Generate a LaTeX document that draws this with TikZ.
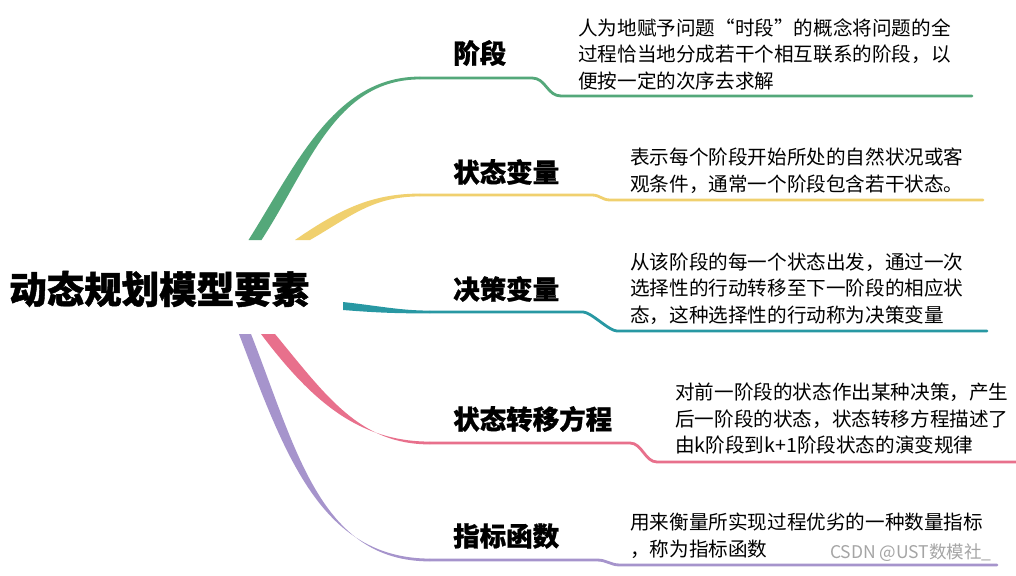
\documentclass[tikz,border=0pt]{standalone}
\usepackage{fontspec}
\setmainfont{Noto Sans CJK SC}
\newfontfamily\cjk{Noto Sans CJK SC}
\definecolor{cgreen}{RGB}{84,168,122}
\definecolor{cyellow}{RGB}{240,208,110}
\definecolor{cteal}{RGB}{40,152,163}
\definecolor{cpink}{RGB}{232,112,140}
\definecolor{cpurple}{RGB}{166,148,204}
\definecolor{wmgray}{RGB}{165,165,165}
\tikzset{
  root/.style={inner sep=0pt, anchor=west, font=\cjk\bfseries\addfontfeatures{FakeBold=1.2}\fontsize{37.5}{40}\selectfont},
  lab/.style={inner sep=0pt, anchor=west, font=\cjk\bfseries\addfontfeatures{FakeBold=0.8}\fontsize{26.5}{30}\selectfont},
  desc/.style={inner sep=0pt, anchor=west, align=left, font=\cjk\fontsize{19.6}{26.5}\selectfont},
  flat/.style={line width=2.8pt, line cap=round, line join=round},
  wm/.style={inner sep=0pt, anchor=west, text=wmgray, font=\cjk\fontsize{17.5}{19}\selectfont}
}
\begin{document}
\begin{tikzpicture}[x=1pt,y=-1pt]
\useasboundingbox[fill=white] (0,0) rectangle (1016,575);

% root
\node[root] (root) at (9,289) {动态规划模型要素};

% labels
\node[lab] (l1) at (453,53) {阶段};
\node[lab] (l2) at (453,172) {状态变量};
\node[lab] (l3) at (453,289) {决策变量};
\node[lab] (l4) at (453,419) {状态转移方程};
\node[lab] (l5) at (453,536) {指标函数};

% descriptions
\node[desc] (d1) at (578,54) {人为地赋予问题“时段”的概念将问题的全\\过程恰当地分成若干个相互联系的阶段，以\\便按一定的次序去求解};
\node[desc] (d2) at (630,170.5) {表示每个阶段开始所处的自然状况或客\\观条件，通常一个阶段包含若干状态。};
\node[desc] (d3) at (630,288.5) {从该阶段的每一个状态出发，通过一次\\选择性的行动转移至下一阶段的相应状\\态，这种选择性的行动称为决策变量};
\node[desc] (d4) at (675,419) {对前一阶段的状态作出某种决策，产生\\后一阶段的状态，状态转移方程描述了\\由k阶段到k+1阶段状态的演变规律};
\node[desc] (d5) at (630,535.5) {用来衡量所实现过程优劣的一种数量指标\\，称为指标函数};

% branch coordinates
\coordinate (g0) at (420,78);  \coordinate (g1) at (532,78);  \coordinate (g2) at (561,96);  \coordinate (g3) at (972,96);
\coordinate (y0) at (420,195); \coordinate (y1) at (592,195); \coordinate (y2) at (610,200); \coordinate (y3) at (983,200);
\coordinate (t0) at (430,312); \coordinate (t1) at (583,312); \coordinate (t2) at (617,331); \coordinate (t3) at (987,331);
\coordinate (p0) at (430,443); \coordinate (p1) at (630,443); \coordinate (p2) at (657,462); \coordinate (p3) at (1016,462);
\coordinate (u0) at (430,560); \coordinate (u1) at (597,560); \coordinate (u2) at (620,565); \coordinate (u3) at (997,565);

% green branch
\fill[cgreen] (248.5,240) .. controls (297,163) and (335,76.6) .. (420,76.6) -- (420,79.4) .. controls (335,79.4) and (309,167) .. (261.5,240) -- cycle;
\draw[flat, cgreen] (g0) -- (g1) .. controls (546,78) and (547,96) .. (g2) -- (g3);

% yellow branch
\fill[cyellow] (295,240) .. controls (340,209) and (372,193.6) .. (420,193.6) -- (420,196.4) .. controls (372,196.4) and (350,217) .. (310,240) -- cycle;
\draw[flat, cyellow] (y0) -- (y1) .. controls (600,195) and (602,200) .. (y2) -- (y3);

% teal branch
\fill[cteal] (343,302) .. controls (380,306) and (400,310.6) .. (430,310.6) -- (430,313.4) .. controls (400,313.4) and (380,313) .. (343,310) -- cycle;
\draw[flat, cteal] (t0) -- (t1) .. controls (591,312) and (609,331) .. (t2) -- (t3);

% pink branch
\fill[cpink] (261,334) .. controls (313,403) and (360,441.6) .. (430,441.6) -- (430,444.4) .. controls (360,444.4) and (327,397) .. (275,334) -- cycle;
\draw[flat, cpink] (p0) -- (p1) .. controls (642,443) and (645,462) .. (p2) -- (p3);

% purple branch
\fill[cpurple] (239,334) .. controls (284,452) and (320,558.6) .. (430,558.6) -- (430,561.4) .. controls (320,561.4) and (296,448) .. (251,334) -- cycle;
\draw[flat, cpurple] (u0) -- (u1) .. controls (607,560) and (610,565) .. (u2) -- (u3);

% watermark
\node[wm] (wm) at (830,553) {CSDN @UST数模社\_};
\end{tikzpicture}
\end{document}
